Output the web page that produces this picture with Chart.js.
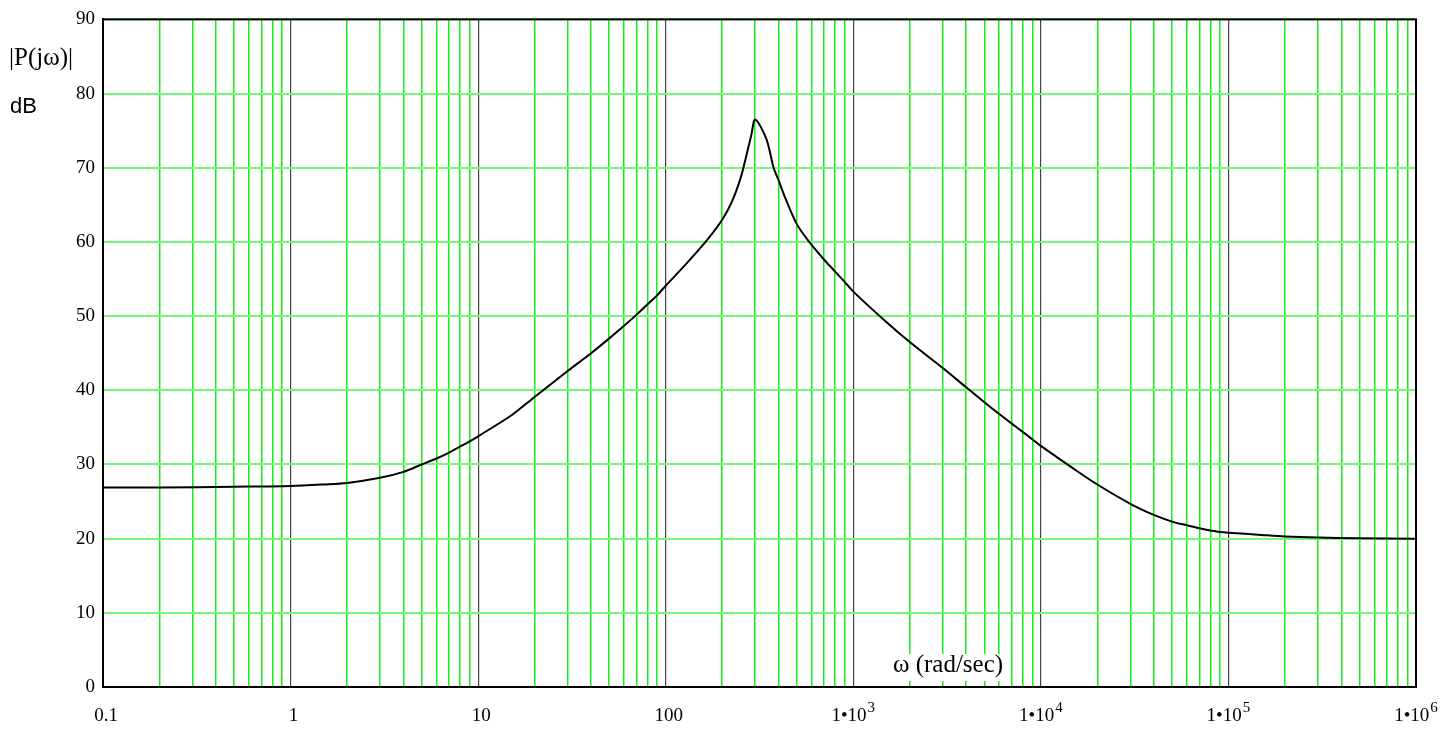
<!DOCTYPE html>
<html>
<head>
<meta charset="utf-8">
<script src="https://cdn.jsdelivr.net/npm/chart.js@4.4.1/dist/chart.umd.min.js"></script>
<style>
  html, body { margin: 0; background: #fff; }
  #wrap { width: 1456px; height: 730px; position: relative; }
</style>
</head>
<body>
<div id="wrap"><canvas id="bode"></canvas></div>
<script>
// frequency (rad/sec) and magnitude |P(jw)| in dB
const omega = [
  0.1, 0.2, 0.5, 1, 1.5, 2, 3, 4, 5, 6, 7, 8, 9,
  10, 15, 20, 30, 40, 50, 60, 70, 80, 90,
  100, 126, 163, 200, 227, 252, 270, 286, 300, 344, 376, 400, 436, 500, 582, 700, 800, 900,
  1000, 1500, 2000, 3000, 4000, 5000, 6000, 7000, 8000, 9000,
  1e4, 1.5e4, 2e4, 3e4, 4e4, 5e4, 6e4, 7e4, 8e4, 9e4,
  1e5, 1.5e5, 2e5, 3e5, 5e5, 1e6
];
const magDb = [
  26.9, 26.9, 27.0, 27.1, 27.3, 27.5, 28.2, 29.0, 30.0, 30.8, 31.6, 32.4, 33.1,
  33.8, 36.6, 39.1, 42.6, 45.0, 47.0, 48.7, 50.2, 51.6, 52.8,
  54.1, 56.8, 60.0, 63.0, 65.6, 68.8, 71.8, 74.4, 76.5, 73.9, 70.0, 68.3, 65.8, 62.4, 60.0, 57.6, 56.0, 54.6,
  53.3, 49.2, 46.5, 43.0, 40.4, 38.4, 36.8, 35.5, 34.4, 33.4,
  32.5, 29.4, 27.3, 24.7, 23.2, 22.3, 21.8, 21.4, 21.1, 20.9,
  20.8, 20.5, 20.3, 20.15, 20.05, 20.0
];

const decadeTicks = [0.1, 1, 10, 100, 1e3, 1e4, 1e5, 1e6];
const decadeLabels = ['0.1', '1', '10', '100', '1\u202210^3', '1\u202210^4', '1\u202210^5', '1\u202210^6'];

const yLabel = '|P(j\u03c9)|';
const yUnit = 'dB';
const xLabel = '\u03c9 (rad/sec)';

const serif = '"Liberation Serif", "Times New Roman", serif';
const sans = '"Liberation Sans", Arial, sans-serif';

function isDecade(v) {
  const l = Math.log10(v);
  return Math.abs(l - Math.round(l)) < 1e-6;
}

// 1..9 x 10^n grid positions between the axis limits
function logGridValues(min, max) {
  const out = [];
  for (let e = Math.floor(Math.log10(min)); e <= Math.ceil(Math.log10(max)); e++) {
    for (let m = 1; m <= 9; m++) {
      const v = m * Math.pow(10, e);
      if (v >= min * 0.999 && v <= max * 1.001) out.push({ value: v });
    }
  }
  return out;
}

const textPlugin = {
  id: 'bodeText',
  afterDatasetsDraw(chart) {
    const { ctx, chartArea, scales } = chart;
    ctx.save();
    ctx.fillStyle = '#000';

    // axis titles on the left
    ctx.textAlign = 'left';
    ctx.textBaseline = 'alphabetic';
    ctx.font = '25px ' + serif;
    ctx.fillText(yLabel, 9, 65);
    ctx.font = '22px ' + sans;
    ctx.fillText(yUnit, 10, 113);

    // frequency label sits inside the plot on a white patch
    ctx.font = '25px ' + serif;
    const w = ctx.measureText(xLabel).width;
    const cx = 948;
    ctx.fillStyle = '#fff';
    ctx.fillRect(cx - w / 2 - 4, 654, w + 8, 27);
    ctx.fillStyle = '#000';
    ctx.textAlign = 'center';
    ctx.fillText(xLabel, cx, 672);

    // decade labels, with raised exponents
    const x = scales.x;
    decadeTicks.forEach((v, i) => {
      const [base, exp] = decadeLabels[i].split('^');
      const px = x.getPixelForValue(v) + (exp ? 0 : 3);
      ctx.font = '19px ' + serif;
      const bw = ctx.measureText(base).width;
      let ew = 0;
      if (exp) {
        ctx.font = '15px ' + serif;
        ew = ctx.measureText(exp).width + 1;
      }
      const left = px - (bw + ew) / 2;
      ctx.textAlign = 'left';
      ctx.font = '19px ' + serif;
      ctx.fillText(base, left, 721);
      if (exp) {
        ctx.font = '15px ' + serif;
        ctx.fillText(exp, left + bw + 1, 712);
      }
    });

    // frame round the plot
    ctx.strokeStyle = '#000';
    ctx.lineWidth = 2;
    ctx.strokeRect(chartArea.left, chartArea.top, chartArea.right - chartArea.left, chartArea.bottom - chartArea.top);
    ctx.restore();
  }
};

new Chart(document.getElementById('bode'), {
  type: 'line',
  data: {
    datasets: [{
      data: omega.map((w, i) => ({ x: w, y: magDb[i] })),
      borderColor: '#000',
      borderWidth: 2,
      pointRadius: 0,
      tension: 0.3,
      fill: false
    }]
  },
  options: {
    responsive: true,
    maintainAspectRatio: false,
    animation: false,
    layout: { padding: { top: 15, right: 40, left: 0, bottom: 0 } },
    plugins: { legend: { display: false }, tooltip: { enabled: false } },
    scales: {
      x: {
        type: 'logarithmic',
        min: 0.1,
        max: 1e6,
        afterBuildTicks(scale) { scale.ticks = logGridValues(0.1, 1e6); },
        afterFit(scale) { scale.height = 43; },
        ticks: { display: false },
        grid: {
          drawTicks: false,
          lineWidth: c => (c.tick && isDecade(c.tick.value)) ? 1.2 : 1.5,
          color: c => (c.tick && isDecade(c.tick.value)) ? '#444444' : '#14f014'
        },
        border: { display: true, color: '#000', width: 2 }
      },
      y: {
        min: 0,
        max: 90,
        afterFit(scale) { scale.width = 103; },
        ticks: {
          stepSize: 10,
          color: '#000',
          padding: 8,
          font: { family: serif, size: 19 }
        },
        grid: {
          drawTicks: false,
          lineWidth: 2,
          color: '#77f777'
        },
        border: { display: true, color: '#000', width: 2 }
      }
    }
  },
  plugins: [textPlugin]
});
</script>
</body>
</html>
